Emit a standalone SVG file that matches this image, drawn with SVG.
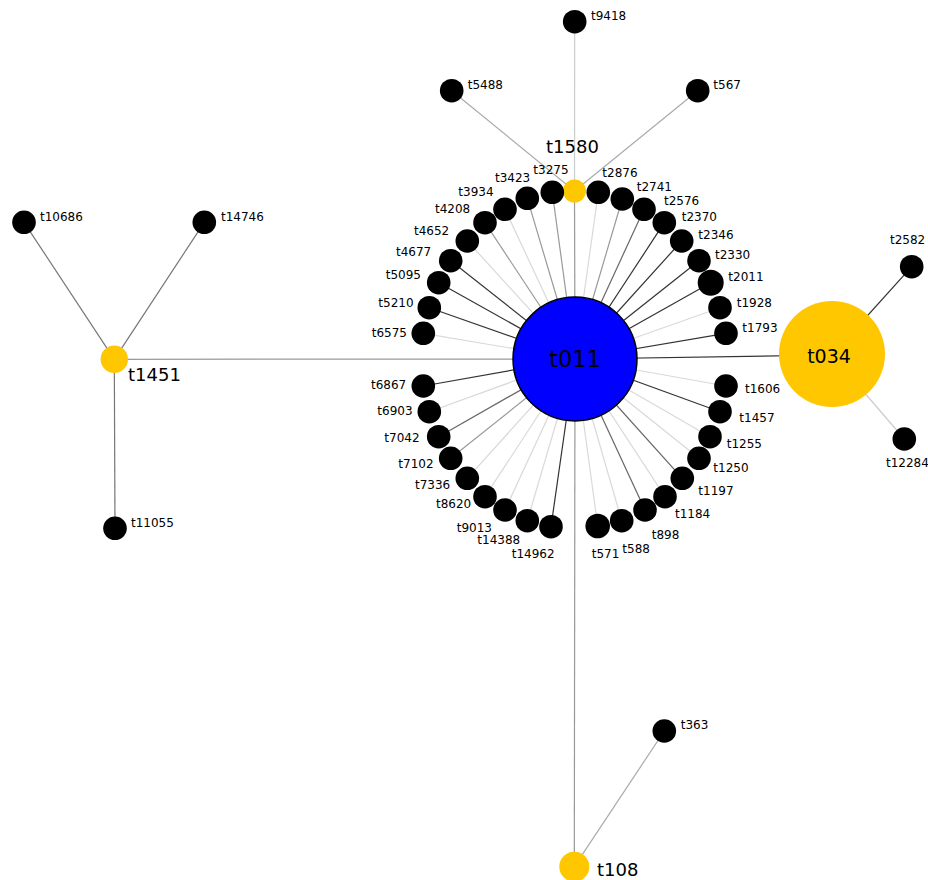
<svg xmlns="http://www.w3.org/2000/svg" width="928" height="880" viewBox="0 0 928 880">
<style>
text{font-family:"DejaVu Sans","Liberation Sans",sans-serif;fill:#000}
.s{font-size:12px}
.b{font-size:18px}
line{stroke-width:1.2;fill:none}
.d{stroke:#333}
.md{stroke:#666}
.m{stroke:#999}
.l{stroke:#d9d9d9}
.n{fill:#000}
.y{fill:#ffc700}
</style>
<rect width="928" height="880" fill="#fff"/>
<g id="edges">
<line class="l" x1="575" y1="359" x2="423.3" y2="333.3"/>
<line class="d" x1="575" y1="359" x2="429.3" y2="307.7"/>
<line class="d" x1="575" y1="359" x2="438.7" y2="282.7"/>
<line class="d" x1="575" y1="359" x2="450.7" y2="260.7"/>
<line class="l" x1="575" y1="359" x2="467.3" y2="241"/>
<line class="m" x1="575" y1="359" x2="485" y2="222.7"/>
<line class="l" x1="575" y1="359" x2="505" y2="209.3"/>
<line class="m" x1="575" y1="359" x2="527.3" y2="198.3"/>
<line class="m" x1="575" y1="359" x2="552.3" y2="192.3"/>
<line class="m" x1="575" y1="359" x2="574.5" y2="191"/>
<line class="l" x1="575" y1="359" x2="598.3" y2="192.3"/>
<line class="m" x1="575" y1="359" x2="622.3" y2="199"/>
<line class="md" x1="575" y1="359" x2="644" y2="209.3"/>
<line class="d" x1="575" y1="359" x2="664.3" y2="222.7"/>
<line class="d" x1="575" y1="359" x2="681.7" y2="241"/>
<line class="d" x1="575" y1="359" x2="699" y2="260.7"/>
<line class="d" x1="575" y1="359" x2="710.7" y2="282.7"/>
<line class="l" x1="575" y1="359" x2="720" y2="307.7"/>
<line class="d" x1="575" y1="359" x2="726" y2="333.3"/>
<line class="d" x1="575" y1="359" x2="832" y2="355"/>
<line class="m" x1="575" y1="359" x2="114.3" y2="359.3"/>
<line class="l" x1="575" y1="359" x2="726" y2="386"/>
<line class="d" x1="575" y1="359" x2="720" y2="411.7"/>
<line class="l" x1="575" y1="359" x2="710" y2="436.7"/>
<line class="l" x1="575" y1="359" x2="699" y2="458.3"/>
<line class="md" x1="575" y1="359" x2="682.3" y2="478.3"/>
<line class="l" x1="575" y1="359" x2="665" y2="496.7"/>
<line class="md" x1="575" y1="359" x2="645" y2="510"/>
<line class="l" x1="575" y1="359" x2="621.7" y2="520.7"/>
<line class="l" x1="575" y1="359" x2="597.7" y2="526"/>
<line class="m" x1="575" y1="359" x2="574.3" y2="866.7"/>
<line class="d" x1="575" y1="359" x2="551" y2="526.7"/>
<line class="l" x1="575" y1="359" x2="527.3" y2="520.7"/>
<line class="l" x1="575" y1="359" x2="505" y2="510"/>
<line class="l" x1="575" y1="359" x2="485" y2="496.7"/>
<line class="l" x1="575" y1="359" x2="467.3" y2="478.3"/>
<line class="m" x1="575" y1="359" x2="450.7" y2="458.3"/>
<line class="md" x1="575" y1="359" x2="438.7" y2="436.7"/>
<line class="l" x1="575" y1="359" x2="429.3" y2="411.7"/>
<line class="d" x1="575" y1="359" x2="423.3" y2="386"/>
<line stroke="#aaa" x1="574.5" y1="191" x2="451.7" y2="90.7"/>
<line stroke="#aaa" x1="574.5" y1="191" x2="697.7" y2="90.7"/>
<line stroke="#ccc" x1="574.5" y1="191" x2="574.7" y2="21.7"/>
<line stroke="#777" x1="114.3" y1="359.3" x2="24" y2="222.3"/>
<line stroke="#777" x1="114.3" y1="359.3" x2="204.3" y2="222.3"/>
<line stroke="#777" x1="114.3" y1="359.3" x2="115" y2="528.3"/>
<line class="d" x1="832" y1="355" x2="911.7" y2="266.7"/>
<line stroke="#ccc" x1="832" y1="355" x2="904.3" y2="439"/>
<line stroke="#aaa" x1="574.3" y1="866.7" x2="664.3" y2="731"/>
</g>
<g id="t011"><circle cx="575" cy="359" r="62" fill="#0000ff" stroke="#000" stroke-width="1.5"/><text x="575" y="367" font-size="22.5" text-anchor="middle">t011</text></g>
<g id="t034"><circle cx="832" cy="354" r="53" class="y"/><text x="829" y="363" font-size="19" text-anchor="middle">t034</text></g>
<g id="t1580"><circle cx="574.5" cy="191" r="11.5" class="y"/><text x="546" y="153" class="b">t1580</text></g>
<g id="t1451"><circle cx="114.3" cy="359.3" r="13.7" class="y"/><text x="128" y="381" class="b">t1451</text></g>
<g id="t108"><circle cx="574.3" cy="866.7" r="15" class="y"/><text x="597" y="876" class="b">t108</text></g>
<g id="t6575"><circle cx="423.3" cy="333.3" r="11.8" class="n"/><text x="371.7" y="336.7" class="s">t6575</text></g>
<g id="t5210"><circle cx="429.3" cy="307.7" r="11.8" class="n"/><text x="378.3" y="306.7" class="s">t5210</text></g>
<g id="t5095"><circle cx="438.7" cy="282.7" r="11.8" class="n"/><text x="385.7" y="279" class="s">t5095</text></g>
<g id="t4677"><circle cx="450.7" cy="260.7" r="11.8" class="n"/><text x="396" y="256" class="s">t4677</text></g>
<g id="t4652"><circle cx="467.3" cy="241" r="11.8" class="n"/><text x="414" y="235" class="s">t4652</text></g>
<g id="t4208"><circle cx="485" cy="222.7" r="11.8" class="n"/><text x="435" y="213.3" class="s">t4208</text></g>
<g id="t3934"><circle cx="505" cy="209.3" r="11.8" class="n"/><text x="458.3" y="196" class="s">t3934</text></g>
<g id="t3423"><circle cx="527.3" cy="198.3" r="11.8" class="n"/><text x="495" y="181.7" class="s">t3423</text></g>
<g id="t3275"><circle cx="552.3" cy="192.3" r="11.8" class="n"/><text x="533.3" y="174.3" class="s">t3275</text></g>
<g id="t2876"><circle cx="598.3" cy="192.3" r="11.8" class="n"/><text x="602.3" y="176.7" class="s">t2876</text></g>
<g id="t2741"><circle cx="622.3" cy="199" r="11.8" class="n"/><text x="636.7" y="190.7" class="s">t2741</text></g>
<g id="t2576"><circle cx="644" cy="209.3" r="11.8" class="n"/><text x="664" y="205" class="s">t2576</text></g>
<g id="t2370"><circle cx="664.3" cy="222.7" r="11.8" class="n"/><text x="681.7" y="220.7" class="s">t2370</text></g>
<g id="t2346"><circle cx="681.7" cy="241" r="11.8" class="n"/><text x="698.3" y="239.3" class="s">t2346</text></g>
<g id="t2330"><circle cx="699" cy="260.7" r="11.8" class="n"/><text x="715" y="259" class="s">t2330</text></g>
<g id="t2011"><circle cx="710.7" cy="282.7" r="13" class="n"/><text x="728.3" y="280.7" class="s">t2011</text></g>
<g id="t1928"><circle cx="720" cy="307.7" r="11.8" class="n"/><text x="736.7" y="306.7" class="s">t1928</text></g>
<g id="t1793"><circle cx="726" cy="333.3" r="11.8" class="n"/><text x="742.3" y="332.3" class="s">t1793</text></g>
<g id="t1606"><circle cx="726" cy="386" r="11.8" class="n"/><text x="745" y="393.3" class="s">t1606</text></g>
<g id="t1457"><circle cx="720" cy="411.7" r="11.8" class="n"/><text x="739.3" y="421.7" class="s">t1457</text></g>
<g id="t1255"><circle cx="710" cy="436.7" r="11.8" class="n"/><text x="726.7" y="448.3" class="s">t1255</text></g>
<g id="t1250"><circle cx="699" cy="458.3" r="11.8" class="n"/><text x="713.3" y="471.7" class="s">t1250</text></g>
<g id="t1197"><circle cx="682.3" cy="478.3" r="11.8" class="n"/><text x="698.3" y="495" class="s">t1197</text></g>
<g id="t1184"><circle cx="665" cy="496.7" r="11.8" class="n"/><text x="675" y="518.3" class="s">t1184</text></g>
<g id="t898"><circle cx="645" cy="510" r="11.8" class="n"/><text x="651.7" y="539" class="s">t898</text></g>
<g id="t588"><circle cx="621.7" cy="520.7" r="11.8" class="n"/><text x="622.3" y="553.3" class="s">t588</text></g>
<g id="t571"><circle cx="597.7" cy="526" r="12.3" class="n"/><text x="591.7" y="558.3" class="s">t571</text></g>
<g id="t14962"><circle cx="551" cy="526.7" r="11.8" class="n"/><text x="511.7" y="558.3" class="s">t14962</text></g>
<g id="t14388"><circle cx="527.3" cy="520.7" r="11.8" class="n"/><text x="477.3" y="544.3" class="s">t14388</text></g>
<g id="t9013"><circle cx="505" cy="510" r="11.8" class="n"/><text x="456.7" y="531.7" class="s">t9013</text></g>
<g id="t8620"><circle cx="485" cy="496.7" r="11.8" class="n"/><text x="436" y="508.3" class="s">t8620</text></g>
<g id="t7336"><circle cx="467.3" cy="478.3" r="11.8" class="n"/><text x="415" y="489.3" class="s">t7336</text></g>
<g id="t7102"><circle cx="450.7" cy="458.3" r="11.8" class="n"/><text x="398.3" y="467.7" class="s">t7102</text></g>
<g id="t7042"><circle cx="438.7" cy="436.7" r="11.8" class="n"/><text x="384.3" y="441.7" class="s">t7042</text></g>
<g id="t6903"><circle cx="429.3" cy="411.7" r="11.8" class="n"/><text x="377.3" y="415" class="s">t6903</text></g>
<g id="t6867"><circle cx="423.3" cy="386" r="11.8" class="n"/><text x="371" y="389.3" class="s">t6867</text></g>
<g id="t9418"><circle cx="574.7" cy="21.7" r="11.8" class="n"/><text x="591" y="20" class="s">t9418</text></g>
<g id="t5488"><circle cx="451.7" cy="90.7" r="11.8" class="n"/><text x="467.7" y="89.3" class="s">t5488</text></g>
<g id="t567"><circle cx="697.7" cy="90.7" r="11.8" class="n"/><text x="713.3" y="89.3" class="s">t567</text></g>
<g id="t10686"><circle cx="24" cy="222.3" r="11.8" class="n"/><text x="40" y="220.7" class="s">t10686</text></g>
<g id="t14746"><circle cx="204.3" cy="222.3" r="11.8" class="n"/><text x="221" y="220.7" class="s">t14746</text></g>
<g id="t11055"><circle cx="115" cy="528.3" r="11.8" class="n"/><text x="131" y="526.7" class="s">t11055</text></g>
<g id="t2582"><circle cx="911.7" cy="266.7" r="11.8" class="n"/><text x="890" y="244" class="s">t2582</text></g>
<g id="t12284"><circle cx="904.3" cy="439" r="11.8" class="n"/><text x="886" y="467.3" class="s">t12284</text></g>
<g id="t363"><circle cx="664.3" cy="731" r="11.8" class="n"/><text x="680.7" y="729.3" class="s">t363</text></g>
</svg>
